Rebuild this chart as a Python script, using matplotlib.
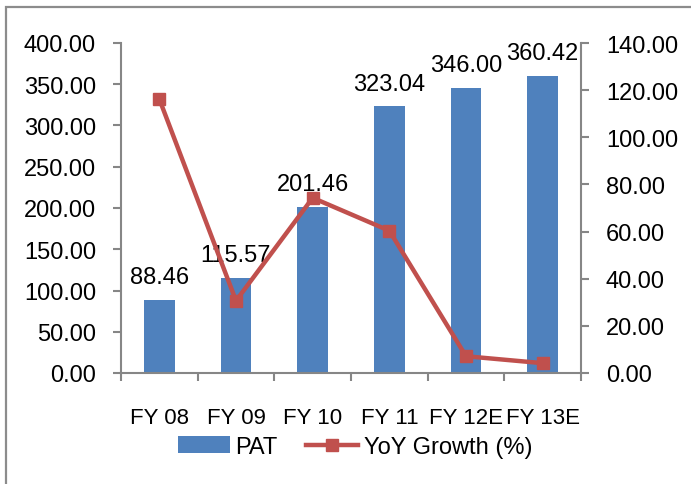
import numpy as np
import matplotlib
matplotlib.use("Agg")
import matplotlib.pyplot as plt
from matplotlib.patches import Rectangle

# data
years = ["FY 08", "FY 09", "FY 10", "FY 11", "FY 12E", "FY 13E"]
pat = [88.46, 115.57, 201.46, 323.04, 346.00, 360.42]
yoy = [116.2, 30.65, 74.31, 60.35, 7.11, 4.17]

bar_col = "#4F81BD"
line_col = "#C0504D"
axis_col = "#868686"

plt.rcParams["font.family"] = ["Liberation Sans", "DejaVu Sans"]
fs = 17

fig = plt.figure(figsize=(6.91, 4.85), dpi=100, facecolor="white")
W, H = 691, 485

# outer frame of the chart area
fig.patches.append(Rectangle((6 / W, -0.1), 1.2, 1 - 8 / H + 0.1,
                             transform=fig.transFigure, fill=False,
                             ec="#8c8c8c", lw=1.6))

ax = fig.add_axes([121 / W, 1 - 374 / H, (581 - 121) / W, (374 - 44) / H])
x = np.arange(len(years))

bars = ax.bar(x, pat, width=0.4, color=bar_col, label="PAT", zorder=2)
for xi, v in zip(x, pat):
    ax.annotate(f"{v:.2f}", (xi, v), xytext=(0, 12), textcoords="offset points",
                ha="center", va="baseline", fontsize=fs)

ax.set_xlim(-0.5, len(years) - 0.5)
ax.set_ylim(0, 400)
ax.set_yticks(np.arange(0, 401, 50))
ax.set_yticklabels([f"{v:.2f}" for v in np.arange(0, 401, 50)], fontsize=fs)
ax.set_xticks(x)
ax.set_xticklabels(years, fontsize=16)
ax.set_xticks(np.arange(-0.5, len(years)), minor=True)
ax.tick_params(axis="x", which="major", length=0, pad=24.5)
ax.tick_params(axis="x", which="minor", length=6, width=1.5, color=axis_col, direction="out")
ax.tick_params(axis="y", length=6, width=1.5, color=axis_col, pad=12)

ax2 = ax.twinx()
line, = ax2.plot(x, yoy, color=line_col, lw=3.2, marker="s", markersize=9,
                 markerfacecolor=line_col, markeredgecolor=line_col,
                 label="YoY Growth (%)", zorder=3)
ax2.set_ylim(0, 140)
ax2.set_yticks(np.arange(0, 141, 20))
ax2.set_yticklabels([f"{v:.2f}" for v in np.arange(0, 141, 20)], fontsize=fs)
ax2.tick_params(axis="y", length=6, width=1.5, color=axis_col, pad=12)

for a in (ax, ax2):
    a.spines["top"].set_visible(False)
    for s in ("left", "right", "bottom"):
        a.spines[s].set_color(axis_col)
        a.spines[s].set_linewidth(1.5)
ax.spines["right"].set_visible(False)
ax2.spines["left"].set_visible(False)
ax2.spines["bottom"].set_visible(False)

fig.legend([bars, line], ["PAT", "YoY Growth (%)"], loc="center",
           bbox_to_anchor=(355 / W, 1 - 448 / H), ncol=2, frameon=False,
           fontsize=fs, handlelength=2.2, handletextpad=0.25,
           columnspacing=1.2, borderpad=0)

fig.savefig("out.png", dpi=100)
